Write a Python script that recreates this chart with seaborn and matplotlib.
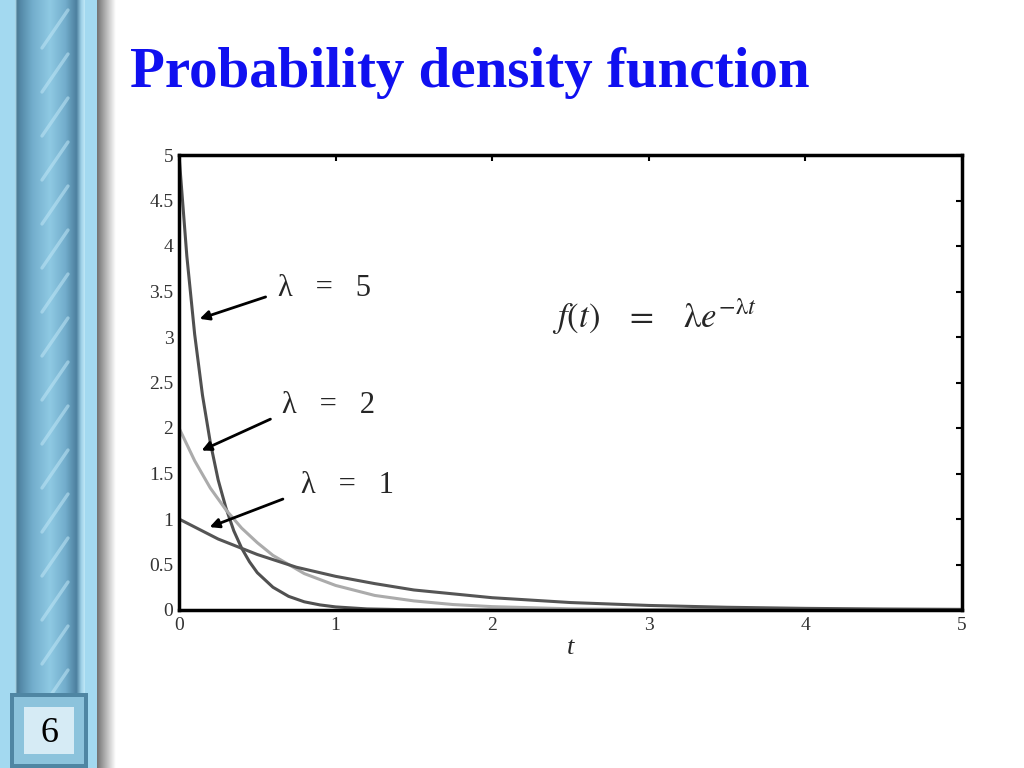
import numpy as np
import pandas as pd
import matplotlib
matplotlib.use("Agg")
import matplotlib.pyplot as plt
from matplotlib.patches import Rectangle
import seaborn as sns

# values
t_lam5 = [0, 0.05, 0.1, 0.15, 0.2, 0.25, 0.3, 0.35, 0.4, 0.45, 0.5, 0.6, 0.7,
          0.8, 0.9, 1.0, 1.2, 1.4, 1.6, 2.0, 3.0, 4.0, 5.0]
f_lam5 = [5.0, 3.89, 3.03, 2.36, 1.84, 1.43, 1.12, 0.87, 0.68, 0.53, 0.41, 0.25,
          0.15, 0.09, 0.056, 0.034, 0.012, 0.005, 0.002, 0.0, 0.0, 0.0, 0.0]
t_lam2 = [0, 0.1, 0.2, 0.3, 0.4, 0.5, 0.6, 0.8, 1.0, 1.25, 1.5, 1.75, 2.0, 2.5,
          3.0, 3.5, 4.0, 4.5, 5.0]
f_lam2 = [2.0, 1.64, 1.34, 1.10, 0.90, 0.74, 0.60, 0.40, 0.27, 0.16, 0.10, 0.06,
          0.037, 0.013, 0.005, 0.002, 0.001, 0.0, 0.0]
t_lam1 = [0, 0.25, 0.5, 0.75, 1.0, 1.25, 1.5, 2.0, 2.5, 3.0, 3.5, 4.0, 4.5, 5.0]
f_lam1 = [1.0, 0.78, 0.61, 0.47, 0.37, 0.29, 0.22, 0.135, 0.082, 0.05, 0.03,
          0.018, 0.011, 0.007]

x_ticks = [0, 1, 2, 3, 4, 5]
y_ticks = [0, 0.5, 1, 1.5, 2, 2.5, 3, 3.5, 4, 4.5, 5]
y_tick_labels = ["0", "0.5", "1", "1.5", "2", "2.5", "3", "3.5", "4", "4.5", "5"]

df = pd.concat([
    pd.DataFrame({"t": t_lam5, "f": f_lam5, "lam": "5"}),
    pd.DataFrame({"t": t_lam2, "f": f_lam2, "lam": "2"}),
    pd.DataFrame({"t": t_lam1, "f": f_lam1, "lam": "1"}),
])

sns.set_theme(style="white")
plt.rcParams["font.family"] = ["Liberation Serif", "DejaVu Serif"]
plt.rcParams["mathtext.fontset"] = "stix"

fig = plt.figure(figsize=(10.24, 7.68), dpi=100)
fig.patch.set_facecolor("white")

# slide decoration on the left
bg = fig.add_axes([0, 0, 1, 1], zorder=0)
bg.add_patch(Rectangle((0, 0), 100, 768, color="#a3d9f0", lw=0, zorder=0))

xs = np.linspace(0, 1, 200)
prof_x = [0, 0.03, 0.08, 0.25, 0.5, 0.72, 0.88, 0.95, 1.0]
prof_c = np.array([[0.72, 0.89, 0.95], [0.30, 0.48, 0.58], [0.33, 0.54, 0.66],
                   [0.45, 0.68, 0.80], [0.56, 0.79, 0.89], [0.45, 0.68, 0.80],
                   [0.30, 0.50, 0.62], [0.62, 0.82, 0.91], [0.75, 0.91, 0.97]])
grad = np.stack([np.interp(xs, prof_x, prof_c[:, i]) for i in range(3)], axis=-1)
bg.imshow(grad[None, :, :], extent=(15, 85, 700, 0), aspect="auto", zorder=1)
for y0 in range(10, 690, 44):
    bg.plot([42, 68], [y0 + 38, y0], color="#bfe6f6", lw=2.4, alpha=0.55,
            solid_capstyle="round", zorder=2)

sh = np.linspace(0, 1, 50)
shadow = np.stack([0.45 + 0.55 * sh] * 3, axis=-1)
bg.imshow(shadow[None, :, :], extent=(97, 116, 768, 0), aspect="auto", zorder=1)

bg.add_patch(Rectangle((10, 693), 78, 75, color="#4f86a3", lw=0, zorder=3))
bg.add_patch(Rectangle((14, 697), 70, 67, color="#8cc3dc", lw=0, zorder=3))
bg.add_patch(Rectangle((24, 707), 50, 47, color="#d6ebf5", lw=0, zorder=3))
bg.text(49, 733, "6", fontsize=26, ha="center", va="center", color="black",
        zorder=4)
bg.set_xlim(0, 1024)
bg.set_ylim(768, 0)
bg.axis("off")

fig.text(130 / 1024, 1 - 73 / 768, "Probability density function",
         fontsize=41, fontweight="bold", color="#1010f0", va="center")

# chart
ax = fig.add_axes([179 / 1024, 1 - 610 / 768, 783 / 1024, 455 / 768], zorder=2)
sns.lineplot(data=df, x="t", y="f", hue="lam", estimator=None, legend=False,
             palette={"5": "#505050", "2": "#ababab", "1": "#555555"},
             linewidth=2.2, ax=ax)
ax.set_xlim(0, 5)
ax.set_ylim(0, 5)
ax.set_xticks(x_ticks)
ax.set_xticklabels([str(v) for v in x_ticks])
ax.set_yticks(y_ticks)
ax.set_yticklabels(y_tick_labels)
ax.tick_params(direction="in", top=True, right=True, length=4, width=1.5,
               labelsize=14, labelcolor="#333333", color="black")
ax.tick_params(axis="y", pad=4)
ax.tick_params(axis="x", pad=5)
for s in ax.spines.values():
    s.set_color("black")
    s.set_linewidth(2.5)
ax.set_ylabel("")
ax.set_xlabel("t", fontsize=19, style="italic", labelpad=2)

arrow = dict(arrowstyle="-|>", color="black", lw=2, mutation_scale=14)
ax.annotate("", xy=(0.115, 3.19), xytext=(0.57, 3.45), arrowprops=arrow)
ax.annotate("", xy=(0.128, 1.74), xytext=(0.60, 2.11), arrowprops=arrow)
ax.annotate("", xy=(0.179, 0.90), xytext=(0.68, 1.23), arrowprops=arrow)
ax.text(0.63, 3.53, "λ   =   5", fontsize=22, va="center")
ax.text(0.66, 2.25, "λ   =   2", fontsize=22, va="center")
ax.text(0.78, 1.37, "λ   =   1", fontsize=22, va="center")
ax.text(2.38, 3.22,
        r"$f(t)\ \ \ =\ \ \ \mathrm{\lambda} e^{-\mathrm{\lambda} t}$",
        fontsize=25, va="center")

fig.savefig("out.png", dpi=100)
